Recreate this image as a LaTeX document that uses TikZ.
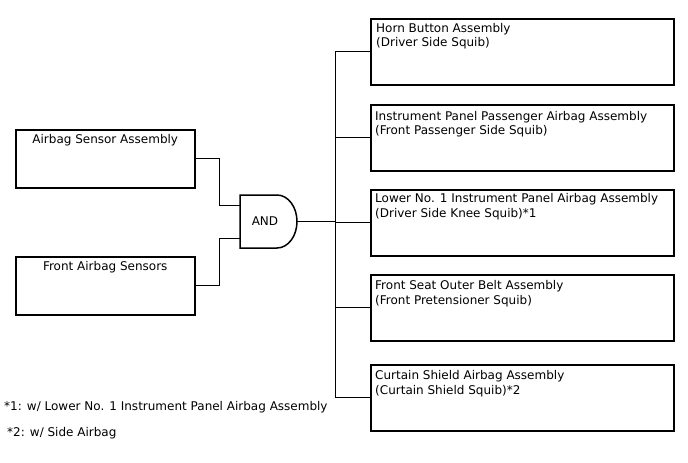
\documentclass[tikz,border=0pt]{standalone}
\usepackage{fontspec}
\setmainfont{DejaVu Sans}
\usetikzlibrary{positioning}
\tikzset{
  unit/.style={draw, line width=1.5pt, inner sep=0pt, anchor=north west},
  leftunit/.style={unit, minimum width=179pt, minimum height=58pt},
  rightunit/.style={unit, minimum width=303pt, minimum height=66pt},
  txt/.style={inner sep=0pt, font=\fontsize{12}{14.5}\selectfont},
  wire/.style={line width=1pt},
}
\begin{document}
\begin{tikzpicture}[x=1pt, y=-1pt]
    \useasboundingbox (0,0) rectangle (688,463);

    %inputs
    \node[leftunit] (sensorassy) at (15,129) {};
    \node[leftunit] (frontsensors) at (15,256) {};
    \node[txt, anchor=north, below=5pt of sensorassy.north] (sensorassytxt) {Airbag Sensor Assembly};
    \node[txt, anchor=north, below=5pt of frontsensors.north] (frontsensorstxt) {Front Airbag Sensors};

    %AND gate
    \draw[line width=1.5pt] (240,195) -- (277,195) arc[start angle=-90, end angle=90, x radius=20, y radius=26.5] -- (240,248) -- cycle;
    \node[txt] (andgate) at (265,221) {AND};
    \coordinate (in1) at (240,205);
    \coordinate (in2) at (240,238);
    \coordinate (gateout) at (297,221.5);

    \draw[wire] (sensorassy.east) -- ++(24,0) |- (in1);
    \draw[wire] (frontsensors.east) -- ++(24,0) |- (in2);

    %squibs
    \node[rightunit] (horn) at (370,18) {};
    \node[rightunit] (passenger) at (370,104) {};
    \node[rightunit] (knee) at (370,189) {};
    \node[rightunit] (belt) at (370,274) {};
    \node[rightunit] (curtain) at (370,364) {};
    \node[txt, align=left, anchor=north west] (horntxt) at ([shift={(6,5)}]horn.north west) {Horn Button Assembly\\(Driver Side Squib)};
    \node[txt, align=left, anchor=north west] (passengertxt) at ([shift={(5,7)}]passenger.north west) {Instrument Panel Passenger Airbag Assembly\\(Front Passenger Side Squib)};
    \node[txt, align=left, anchor=north west] (kneetxt) at ([shift={(5,4.5)}]knee.north west) {Lower No. 1 Instrument Panel Airbag Assembly\\(Driver Side Knee Squib)*1};
    \node[txt, align=left, anchor=north west] (belttxt) at ([shift={(5,6.5)}]belt.north west) {Front Seat Outer Belt Assembly\\(Front Pretensioner Squib)};
    \node[txt, align=left, anchor=north west] (curtaintxt) at ([shift={(5,6.5)}]curtain.north west) {Curtain Shield Airbag Assembly\\(Curtain Shield Squib)*2};

    %bus
    \coordinate (bus) at (335,221.5);
    \draw[wire] (gateout) -- (bus);
    \draw[wire] (bus |- horn.west) -- (bus |- curtain.west);
    \foreach \sq in {horn, passenger, knee, belt, curtain}
        \draw[wire] (bus |- \sq.west) -- (\sq.west);

    %notes
    \node[txt, anchor=west] (note1) at (4,407) {*1: w/ Lower No. 1 Instrument Panel Airbag Assembly};
    \node[txt, anchor=west] (note2) at (7,433) {*2: w/ Side Airbag};
\end{tikzpicture}
\end{document}
